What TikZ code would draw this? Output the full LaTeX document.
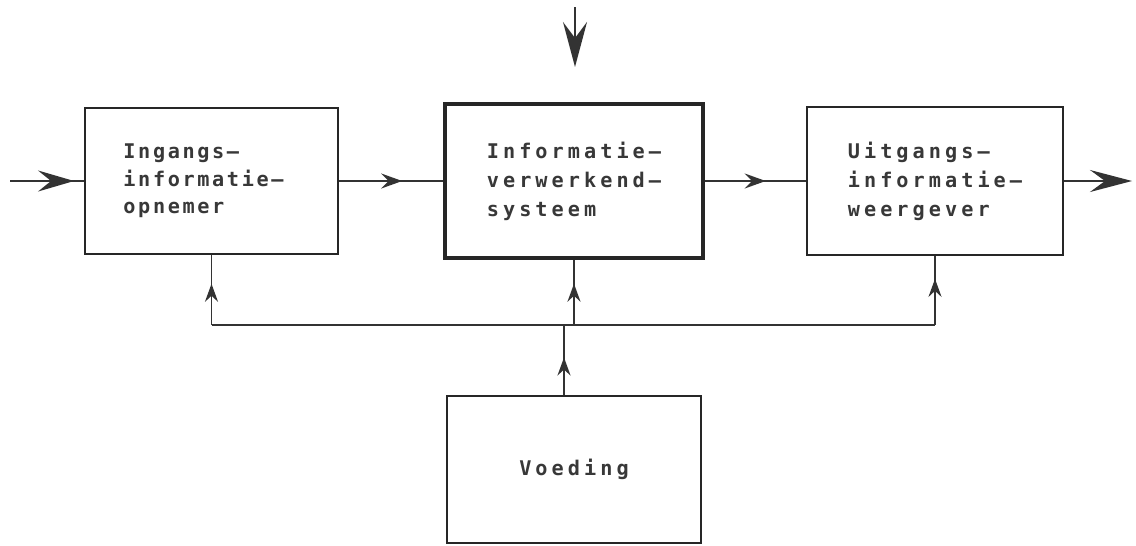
\documentclass[tikz,border=0pt]{standalone}
\usepackage{fontspec}
\newfontfamily\boxfontA[LetterSpace=13]{DejaVu Sans Mono Bold}
\newfontfamily\boxfontB[LetterSpace=20]{DejaVu Sans Mono Bold}
\usetikzlibrary{arrows.meta,decorations.markings}
\begin{document}
\begin{tikzpicture}[x=0.02cm,y=-0.02cm,
  blk/.style={draw=black!85, line width=1.3pt, align=left, inner sep=0pt, text=black!78},
  conn/.style={draw=black!80, line width=1.1pt},
  midbig/.style={postaction={decorate}, decoration={markings, mark=at position #1 with {\arrow{Stealth[length=0.72cm,width=0.42cm,inset=0.26cm]}}}},
  midh/.style={postaction={decorate}, decoration={markings, mark=at position #1 with {\arrow{Stealth[length=0.42cm,width=0.3cm,inset=0.15cm]}}}},
  midv/.style={postaction={decorate}, decoration={markings, mark=at position #1 with {\arrow{Stealth[length=0.36cm,width=0.26cm,inset=0.12cm]}}}},
  fontA/.style={font={\boxfontA\fontsize{11.5pt}{15.6pt}\selectfont}},
  fontB/.style={font={\boxfontB\fontsize{11.5pt}{16.5pt}\selectfont}}
]
\useasboundingbox (0,0) rectangle (1136,545);
\fill[white] (0,0) rectangle (1136,545);

\node[blk, fontA, minimum width=5.06cm, minimum height=2.92cm] (ing) at (211.5,181) {Ingangs–\\informatie–\rule{0.32cm}{0pt}\\opnemer};
\node[blk, fontB, line width=2.8pt, minimum width=5.16cm, minimum height=3.08cm] (ps) at (574,181) {Informatie–\\verwerkend–\\systeem};
\node[blk, fontB, minimum width=5.12cm, minimum height=2.96cm] (vrg) at (935,181) {Uitgangs–\\informatie–\\weergever};
\node[blk, fontB, minimum width=5.08cm, minimum height=2.94cm] (voe) at (574,469.5) {Voeding};

\coordinate (inS) at (10,181);
\coordinate (outE) at (1132,181);
\coordinate (topS) at (575,7);
\coordinate (topE) at (575,67);
\coordinate (bL) at (211.5,325);
\coordinate (bC) at (574,325);
\coordinate (bR) at (935,325);
\coordinate (bV) at (564,325);
\coordinate (vTop) at (voe.north -| bV);

\draw[conn, midbig=0.867] (inS) -- (ing.west);
\draw[conn, midh=0.61] (ing.east) -- (ps.west);
\draw[conn, midh=0.6] (ps.east) -- (vrg.west);
\draw[conn, -{Stealth[length=0.84cm,width=0.44cm,inset=0.3cm]}] (vrg.east) -- (outE);
\draw[conn, -{Stealth[length=0.9cm,width=0.48cm,inset=0.32cm]}] (topS) -- (topE);

\draw[conn] (bL) -- (bR);
\draw[conn, midv=0.59] (bL) -- (ing.south);
\draw[conn, midv=0.64] (bC) -- (ps.south);
\draw[conn, midv=0.67] (bR) -- (vrg.south);
\draw[conn, midv=0.535] (vTop) -- (bV);
\end{tikzpicture}
\end{document}
